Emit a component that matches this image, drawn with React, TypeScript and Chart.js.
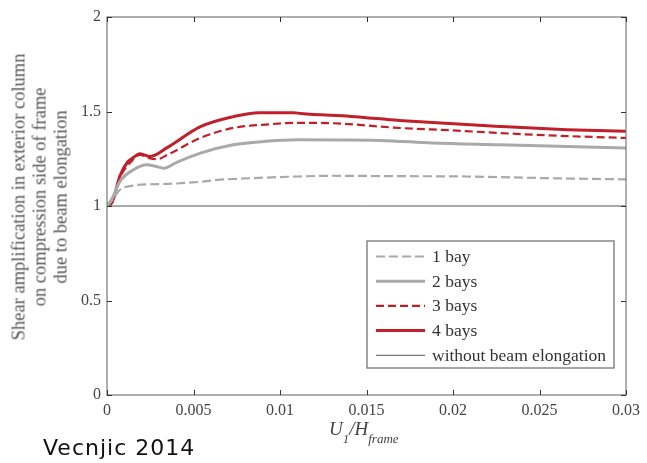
import React, { useEffect, useRef } from "react";
import { Chart, registerables } from "chart.js";

Chart.register(...registerables);

// ---- data ----
const bay1X = [0, 0.0003, 0.00075, 0.0015, 0.0025, 0.0035, 0.0054, 0.0064, 0.0083, 0.011, 0.013, 0.0165, 0.0208, 0.0256, 0.03];
const bay1Y = [1, 1.03, 1.086, 1.108, 1.115, 1.117, 1.128, 1.138, 1.147, 1.156, 1.16, 1.158, 1.156, 1.147, 1.141];

const bay2X = [0, 0.0003, 0.00075, 0.0015, 0.0023, 0.0028, 0.0033, 0.004, 0.0054, 0.0073, 0.0092, 0.011, 0.0158, 0.0188, 0.0227, 0.03];
const bay2Y = [1, 1.04, 1.13, 1.19, 1.218, 1.21, 1.2, 1.23, 1.28, 1.324, 1.342, 1.35, 1.347, 1.333, 1.324, 1.307];

const bay3X = [0, 0.0003, 0.00075, 0.0015, 0.0019, 0.0025, 0.0029, 0.0035, 0.0054, 0.0073, 0.0092, 0.011, 0.013, 0.0169, 0.02, 0.0227, 0.026, 0.03];
const bay3Y = [1, 1.02, 1.15, 1.245, 1.271, 1.252, 1.248, 1.271, 1.36, 1.413, 1.431, 1.44, 1.438, 1.413, 1.4, 1.386, 1.372, 1.36];

const bay4X = [0, 0.0003, 0.00075, 0.0012, 0.0015, 0.0019, 0.0025, 0.0035, 0.0054, 0.0073, 0.0088, 0.0108, 0.0112, 0.0141, 0.0169, 0.0198, 0.0227, 0.0266, 0.03];
const bay4Y = [1, 1.02, 1.16, 1.234, 1.255, 1.277, 1.262, 1.31, 1.42, 1.473, 1.494, 1.494, 1.489, 1.474, 1.453, 1.436, 1.421, 1.404, 1.395];

const refX = [0, 0.03];
const refY = [1, 1];

const seriesLabels = ["1 bay", "2 bays", "3 bays", "4 bays", "without beam elongation"];
const xTickLabels = ["0", "0.005", "0.01", "0.015", "0.02", "0.025", "0.03"];
const yTickLabels = ["0", "0.5", "1", "1.5", "2"];

const RED = "#c0202a";
const GRAY = "#a9a9a9";

const pts = (xs: number[], ys: number[]) => xs.map((x, i) => ({ x, y: ys[i] }));

const framePlugin = {
  id: "frameAndLegend",
  afterDraw(chart: any) {
    const { ctx, chartArea } = chart;
    const { left, top, right, bottom } = chartArea;
    const xs = chart.scales.x;
    const ys = chart.scales.y;
    ctx.save();
    // frame
    ctx.strokeStyle = "#7a7a7a";
    ctx.lineWidth = 1.2;
    ctx.strokeRect(left, top, right - left, bottom - top);
    // inward ticks
    ctx.strokeStyle = "#333";
    ctx.lineWidth = 1;
    ctx.beginPath();
    xs.ticks.forEach((t: any) => {
      const p = Math.round(xs.getPixelForValue(t.value)) + 0.5;
      ctx.moveTo(p, bottom);
      ctx.lineTo(p, bottom - 5);
      ctx.moveTo(p, top);
      ctx.lineTo(p, top + 5);
    });
    ys.ticks.forEach((t: any) => {
      const p = Math.round(ys.getPixelForValue(t.value)) + 0.5;
      ctx.moveTo(left, p);
      ctx.lineTo(left + 5, p);
      ctx.moveTo(right, p);
      ctx.lineTo(right - 5, p);
    });
    ctx.stroke();

    // legend
    const lw = 247;
    const lh = 127;
    const lx = right - 12 - lw;
    const ly = bottom - 27 - lh;
    ctx.fillStyle = "#fff";
    ctx.fillRect(lx, ly, lw, lh);
    ctx.strokeStyle = "#6a6a6a";
    ctx.lineWidth = 1.2;
    ctx.strokeRect(lx, ly, lw, lh);
    ctx.font = '17.5px "Liberation Serif", serif';
    ctx.textBaseline = "middle";
    chart.data.datasets.forEach((ds: any, i: number) => {
      const yy = ly + 15.5 + i * 24.7;
      ctx.save();
      ctx.strokeStyle = ds.borderColor;
      ctx.lineWidth = ds.borderWidth;
      ctx.setLineDash(ds.borderDash || []);
      ctx.beginPath();
      ctx.moveTo(lx + 9, yy);
      ctx.lineTo(lx + 58, yy);
      ctx.stroke();
      ctx.restore();
      ctx.fillStyle = "#333";
      ctx.fillText(ds.label, lx + 65, yy + 1);
    });
    ctx.restore();
  },
};

export default function App() {
  const canvasRef = useRef<HTMLCanvasElement | null>(null);

  useEffect(() => {
    const canvas = canvasRef.current;
    if (!canvas) return;
    const tickFont = { family: '"Liberation Serif", serif', size: 16 };
    const chart = new Chart(canvas, {
      type: "line",
      data: {
        datasets: [
          { label: seriesLabels[0], data: pts(bay1X, bay1Y), borderColor: GRAY, borderWidth: 2.2, borderDash: [9, 4] },
          { label: seriesLabels[1], data: pts(bay2X, bay2Y), borderColor: GRAY, borderWidth: 3 },
          { label: seriesLabels[2], data: pts(bay3X, bay3Y), borderColor: RED, borderWidth: 2.2, borderDash: [8, 4] },
          { label: seriesLabels[3], data: pts(bay4X, bay4Y), borderColor: RED, borderWidth: 3 },
          { label: seriesLabels[4], data: pts(refX, refY), borderColor: "#555", borderWidth: 1 },
        ] as any,
      },
      options: {
        animation: false,
        responsive: false,
        layout: { padding: { top: 17, right: 21, left: 0, bottom: 0 } },
        elements: {
          point: { radius: 0 },
          line: { cubicInterpolationMode: "monotone", fill: false },
        },
        plugins: { legend: { display: false }, tooltip: { enabled: false } },
        scales: {
          x: {
            type: "linear",
            min: 0,
            max: 0.03,
            grid: { display: false, drawTicks: false },
            border: { display: false },
            ticks: {
              stepSize: 0.005,
              autoSkip: false,
              maxRotation: 0,
              padding: 6,
              color: "#444",
              font: tickFont,
              callback: (_v: any, i: number) => xTickLabels[i],
            },
            afterFit: (s: any) => {
              s.height = 68;
            },
          },
          y: {
            type: "linear",
            min: 0,
            max: 2,
            grid: { display: false, drawTicks: false },
            border: { display: false },
            ticks: {
              stepSize: 0.5,
              padding: 6,
              color: "#444",
              font: tickFont,
              callback: (_v: any, i: number) => yTickLabels[i],
            },
            afterFit: (s: any) => {
              s.width = 107;
            },
          },
        },
      } as any,
      plugins: [framePlugin],
    });
    return () => chart.destroy();
  }, []);

  const subStyle: React.CSSProperties = { fontSize: 13, position: "relative", top: 8, verticalAlign: "baseline" };

  return (
    <div style={{ position: "absolute", left: 0, top: 0, width: 647, height: 463, background: "#fff" }}>
      <canvas ref={canvasRef} width={647} height={463} style={{ display: "block" }} />
      <div
        style={{
          position: "absolute",
          left: 40,
          top: 197,
          transform: "translate(-50%, -50%) rotate(-90deg)",
          whiteSpace: "nowrap",
          textAlign: "center",
          lineHeight: "22px",
          font: '18.5px "Liberation Serif", serif',
          color: "#555",
        }}
      >
        Shear amplification in exterior column
        <br />
        on compression side of frame
        <br />
        due to beam elongation
      </div>
      <div
        style={{
          position: "absolute",
          left: 329,
          top: 419,
          whiteSpace: "nowrap",
          font: 'italic 19px "Liberation Serif", serif',
          lineHeight: "20px",
          color: "#444",
        }}
      >
        U<span style={subStyle}>1</span>/H<span style={subStyle}>frame</span>
      </div>
      <div
        style={{
          position: "absolute",
          left: 43,
          top: 435,
          whiteSpace: "nowrap",
          font: '22px "DejaVu Sans", sans-serif',
          letterSpacing: 1,
          color: "#111",
        }}
      >
        Vecnjic 2014
      </div>
    </div>
  );
}
